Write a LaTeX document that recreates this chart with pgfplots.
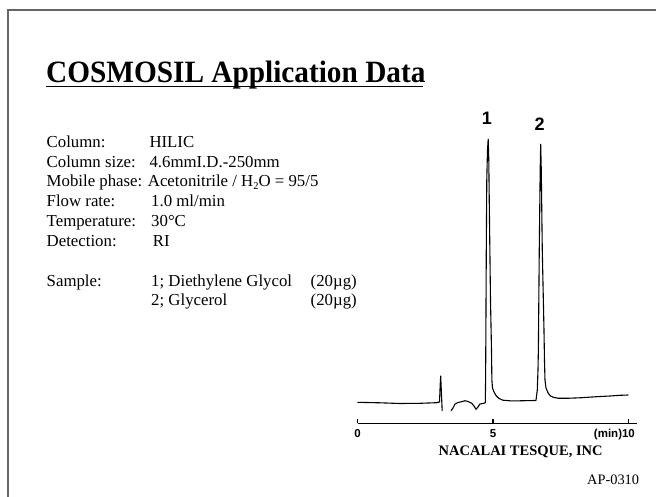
\documentclass[border=0pt]{standalone}
\usepackage{graphicx}
\usepackage{fontspec}
\setmainfont{Liberation Serif}
\newfontfamily\hel{Liberation Sans}
\usepackage{pgfplots}
\pgfplotsset{compat=1.18}
\begin{document}
\begin{tikzpicture}
\useasboundingbox (0pt,0pt) rectangle (656pt,496pt);
\fill[white] (0pt,0pt) rectangle (656pt,496pt);
\draw[black!60, line width=1.2pt] (8pt,-2pt) -- (8pt,486pt) -- (658pt,486pt);
% title
\node[anchor=base west, inner sep=0pt] at (46pt,413pt) {\scalebox{0.945}[1]{\fontsize{31}{31}\selectfont\bfseries COSMOSIL Application Data}};
\draw[black, line width=1.9pt] (46pt,409.5pt) -- (423pt,409.5pt);
% conditions
\begin{scope}[every node/.style={anchor=base west, inner sep=0pt, font=\fontsize{16.8}{18}\selectfont}]
\node at (46.5pt,348pt) {Column:};
\node at (149.3pt,348pt) {HILIC};
\node at (46.5pt,328.5pt) {Column size:};
\node at (149.3pt,328.5pt) {4.6mmI.D.-250mm};
\node at (46.5pt,309pt) {Mobile phase:};
\node at (147.7pt,309pt) {Acetonitrile / H\raisebox{-0.35ex}{\fontsize{10.5}{11}\selectfont 2}O = 95/5};
\node at (46.5pt,289.3pt) {Flow rate:};
\node at (151pt,289.3pt) {1.0 ml/min};
\node at (46.5pt,269.6pt) {Temperature:};
\node at (151pt,269.6pt) {30°C};
\node at (46.5pt,249.8pt) {Detection:};
\node at (152.7pt,249.8pt) {RI};
\node at (46.5pt,210pt) {Sample:};
\node at (151pt,210pt) {1; Diethylene Glycol};
\node at (310.5pt,210pt) {(20µg)};
\node at (151pt,190pt) {2; Glycerol};
\node at (310.5pt,190pt) {(20µg)};
\end{scope}
\node[anchor=base west, inner sep=0pt, font=\fontsize{14.5}{16}\selectfont\bfseries] at (438.5pt,41pt) {NACALAI TESQUE, INC};
\node[anchor=base east, inner sep=0pt, font=\fontsize{14.4}{16}\selectfont] at (639.3pt,12pt) {AP-0310};
\begin{axis}[
  at={(357.5pt,72.7pt)}, anchor=south west,
  scale only axis, width=279.1pt, height=300pt,
  xmin=0, xmax=10.3, ymin=0, ymax=300,
  axis x line*=bottom, axis y line=none,
  xtick={0,5,10}, xticklabels={0,5,{\llap{(min)}10}},
  minor xtick={},
  tick align=inside, major tick length=4pt,
  axis line style={line width=1.2pt, black},
  every tick/.style={line width=1.2pt, black},
  xticklabel style={font=\fontsize{11.5}{11.5}\hel\bfseries, anchor=base, yshift=-14.4pt, inner sep=0pt},
  clip=false,
]
\addplot[black, line width=1.1pt, line join=round] coordinates {
(0.000,21.0) (0.830,20.5) (1.568,19.8) (2.306,20.0) (2.923,20.6) (3.026,21.3)
(3.052,38.3) (3.070,47.3) (3.100,28.3) (3.125,12.3)
};
\addplot[black, line width=1.1pt, line join=round] coordinates {
(3.450,12.6) (3.524,15.3) (3.598,19.3) (3.708,20.8) (3.845,21.6) (3.967,22.6)
(4.077,21.8) (4.214,20.0) (4.299,17.3) (4.373,14.0) (4.446,16.3) (4.520,19.3)
(4.631,19.8) (4.716,20.5) (4.727,43.3) (4.734,73.3) (4.753,173.3) (4.771,243.3)
(4.797,273.3) (4.823,284.0) (4.845,263.3) (4.871,203.3) (4.908,123.3) (4.945,73.3)
(4.959,43.3) (4.982,35.3) (5.037,31.3) (5.111,27.8) (5.221,24.8) (5.369,23.1)
(5.627,22.5) (5.996,22.5) (6.550,22.8) (6.587,23.0) (6.635,33.3) (6.661,53.3)
(6.675,73.3) (6.708,173.3) (6.742,253.3) (6.760,279.0) (6.782,253.3) (6.819,173.3)
(6.882,93.3) (6.900,63.3) (6.919,43.3) (6.956,35.3) (7.041,30.0) (7.122,27.3)
(7.225,26.0) (7.399,25.1) (7.720,25.0) (8.210,25.5) (8.827,26.6) (9.317,27.3)
(9.686,28.0) (9.993,28.3)
};
\node[anchor=base, inner sep=0pt, font=\fontsize{18}{18}\hel\bfseries] at (axis cs:4.776,298.3) {1};
\node[anchor=base, inner sep=0pt, font=\fontsize{18}{18}\hel\bfseries] at (axis cs:6.723,292.3) {2};
\end{axis}
\end{tikzpicture}
\end{document}
